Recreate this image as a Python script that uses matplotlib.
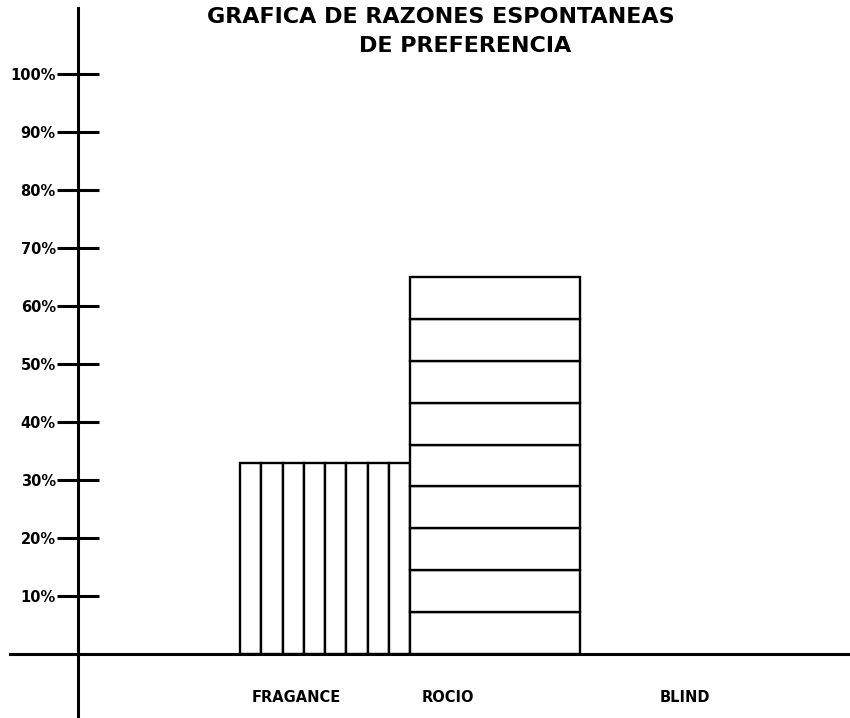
import numpy as np
import matplotlib
matplotlib.use("Agg")
import matplotlib.pyplot as plt

# data
categories = ["FRAGANCE", "ROCIO", "BLIND"]
positions = [0, 1, 2.4]
values = [33, 65, 0]
n_strips = [8, 9]          # FRAGANCE drawn as vertical strips, ROCIO as horizontal bands
yticks = np.arange(10, 101, 10)
ytick_labels = [f"{v}%" for v in yticks]
title1 = "GRAFICA DE RAZONES ESPONTANEAS"
title2 = "DE PREFERENCIA"

W, H = 850, 718
fig = plt.figure(figsize=(W / 100, H / 100), dpi=100)
ax = fig.add_axes([0, 0, 1, 1])

# layout: pixels per unit and where the origin sits (pixels from left / top)
px_x, px_y = 170, 5.8
x0_px, y0_px = 325, 654
ax.set_xlim(-x0_px / px_x, (W - x0_px) / px_x)
ax.set_ylim(-(H - y0_px) / px_y, y0_px / px_y)

lw = 1.7
bar_style = dict(facecolor="white", edgecolor="black", linewidth=lw, zorder=2)

# FRAGANCE: narrow side-by-side strips
k = n_strips[0]
xs = positions[0] - 0.5 + (np.arange(k) + 0.5) / k
ax.bar(xs, values[0], width=1 / k, **bar_style)

# ROCIO: stacked horizontal bands
k = n_strips[1]
ax.bar([positions[1]] * k, values[1] / k, bottom=np.arange(k) * values[1] / k,
       width=1, **bar_style)

# axes lines
for s in ["top", "right"]:
    ax.spines[s].set_visible(False)
ax.spines["left"].set_position(("data", (78 - x0_px) / px_x))
ax.spines["bottom"].set_position(("data", 0))
ax.spines["left"].set_bounds(ax.get_ylim()[0], (y0_px - 8) / px_y)
ax.spines["bottom"].set_bounds((10 - x0_px) / px_x, ax.get_xlim()[1])
for s in ["left", "bottom"]:
    ax.spines[s].set_linewidth(2.2)
    ax.spines[s].set_zorder(3)

ax.set_yticks(yticks)
ax.set_yticklabels(ytick_labels, fontsize=10.5, fontweight="heavy")
ax.tick_params(axis="y", direction="inout", length=30, width=2.2, pad=1)

ax.set_xticks([p - 0.5 + 0.07 for p in positions])
ax.set_xticklabels(categories, fontsize=10.5, fontweight="heavy", ha="left")
ax.tick_params(axis="x", length=0, pad=26)

fig.text(441 / W, 1 - 17 / H, title1, ha="center", va="center",
         fontsize=16, fontweight="heavy")
fig.text(465 / W, 1 - 46 / H, title2, ha="center", va="center",
         fontsize=16, fontweight="heavy")

fig.savefig("out.png", dpi=100)
